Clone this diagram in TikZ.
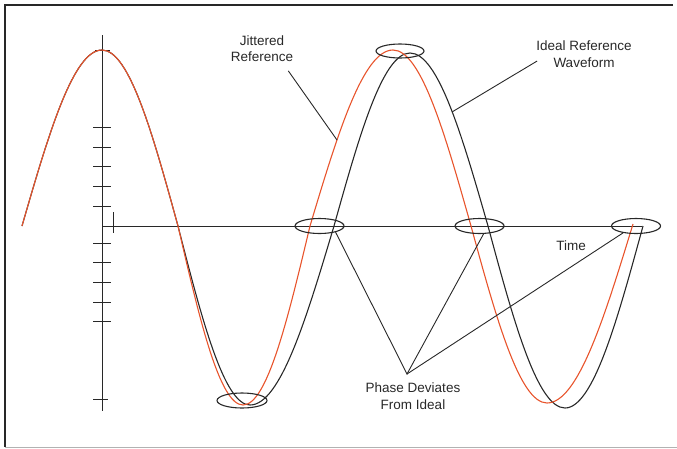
\documentclass[tikz,border=0pt]{standalone}
\usepackage{fontspec}
\setmainfont{Liberation Sans}
\usetikzlibrary{shapes.geometric}

\definecolor{jitter}{RGB}{232,84,44}
\definecolor{ink}{RGB}{40,40,40}

\begin{document}
\begin{tikzpicture}[
    x=1pt, y=-1pt,
    font=\fontsize{13.5}{16.5}\selectfont,
    frame/.style={draw=ink, line width=1.2pt},
    axisline/.style={draw=ink, line width=0.9pt},
    tickmark/.style={draw=ink, line width=1pt},
    ideal/.style={draw=ink, line width=1.1pt},
    jittered/.style={draw=jitter, line width=1.1pt},
    ring/.style={ellipse, draw=ink, line width=1.1pt, minimum width=49pt,
      minimum height=15pt, inner sep=0pt},
    lbl/.style={text=ink, align=center, inner sep=2pt},
    leader/.style={draw=ink, line width=0.9pt}
  ]
  \useasboundingbox (0,0) rectangle (677,448);
  %---- FRAME ----
  \draw[frame] (673,5) -- (5,5) -- (5,447);
  \draw[draw=gray!60, line width=1pt] (5,447) -- (677,447);
  %---- AXES ----
  \draw[axisline] (102,35) -- (102,411);
  \draw[axisline] (102,226) -- (642,226);
  \draw[axisline] (113,212) -- (113,233);
  \draw[tickmark] (95,50) -- (110,50);
  \foreach \ty in {127,147,166,186,206,243,262,282,302,321}
    \draw[tickmark] (93,\ty) -- (111,\ty);
  \draw[tickmark] (93,399) -- (108,399);
  %---- WAVES ----
  \draw[ideal] (22,226) sin (102,50) cos (178,226) sin (250,405) cos (334,226)
    sin (410,53) cos (488,226) sin (565,408) cos (643,226);
  \draw[jittered] (22,226) sin (102,50) cos (178,226) sin (243,405) cos (310,226)
    sin (393,50) cos (471,226) sin (547,403) cos (633,224);
  %---- RINGS ----
  \node[ring, minimum width=48pt, minimum height=14pt] (peakring) at (400,51) {};
  \node[ring, minimum width=50pt] (troughring) at (242,400.5) {};
  \node[ring] (cross1) at (319.5,226) {};
  \node[ring] (cross2) at (479.5,226) {};
  \node[ring] (cross3) at (636,226) {};
  %---- LABELS ----
  \node[lbl] (jitlbl) at (262,48.5) {Jittered\\Reference};
  \node[lbl] (idlbl)  at (584,54) {Ideal Reference\\Waveform};
  \node[lbl] (timelbl) at (571,246) {Time};
  \node[lbl] (phase)  at (413,396) {Phase Deviates\\From Ideal};
  \coordinate (jitpt) at (337,140);
  \coordinate (idpt)  at (452,112);
  \coordinate (apex)  at (407,374);
  \draw[leader] ([shift={(-7,7)}]jitlbl.south east) -- (jitpt);
  \draw[leader] ([shift={(3,7)}]idlbl.west) -- (idpt);
  \draw[leader] (cross1.-21) -- (apex) -- (cross2.-63);
  \draw[leader] (apex) -- (cross3.-152);
\end{tikzpicture}
\end{document}
